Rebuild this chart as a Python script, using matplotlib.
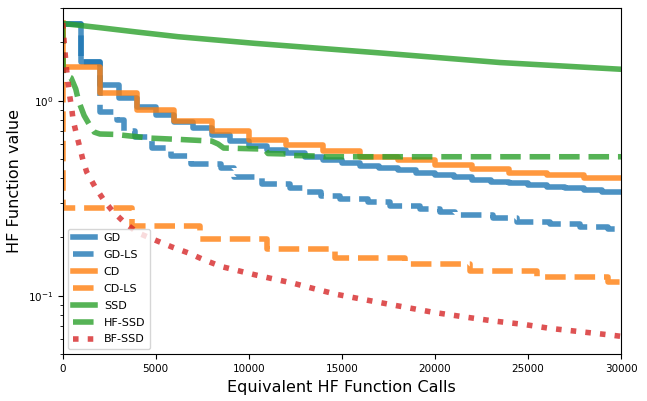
import matplotlib
matplotlib.use("Agg")
import matplotlib.pyplot as plt

# ---------------- data ----------------
# GD: one step every 1000 calls
gd_x = [0, 1000, 2000, 3000, 4000, 5000, 6000, 7000, 8000, 9000, 10000,
        11000, 12000, 13000, 14000, 15000, 16000, 17000, 18000, 19000, 20000,
        21000, 22000, 23000, 24000, 25000, 26000, 27000, 28000, 29000, 30000]
gd_y = [2.47, 1.585, 1.20, 1.03, 0.93, 0.845, 0.78, 0.722, 0.667, 0.62,
        0.585, 0.56, 0.54, 0.516, 0.496, 0.478, 0.465, 0.450, 0.441, 0.428,
        0.416, 0.404, 0.392, 0.385, 0.377, 0.369, 0.362, 0.355, 0.348, 0.341,
        0.341]

# GD-LS
gdls_x = [0, 1000, 2000, 2900, 3300, 3900, 4800, 5800, 6900, 8500, 9200,
          10700, 12200, 13100, 13900, 14900, 16400, 17600, 19200, 20300,
          21100, 23100, 24400, 26200, 27800, 29300, 30000]
gdls_y = [2.47, 1.585, 0.875, 0.796, 0.70, 0.655, 0.572, 0.52, 0.474, 0.452,
          0.406, 0.374, 0.357, 0.34, 0.324, 0.313, 0.302, 0.29, 0.278, 0.268,
          0.26, 0.249, 0.24, 0.233, 0.226, 0.22, 0.22]

# CD: one step every 2000 calls
cd_x = [0, 0, 2000, 4000, 6000, 8000, 10000, 12000, 14000, 16000, 18000,
        20000, 22000, 24000, 26000, 28000, 30000]
cd_y = [2.5, 1.49, 1.09, 0.896, 0.787, 0.70, 0.632, 0.593, 0.552, 0.516,
        0.496, 0.468, 0.447, 0.428, 0.416, 0.40, 0.40]

# CD-LS
cdls_x = [0, 0, 3700, 7380, 10960, 14630, 18390, 21880, 25470, 29300, 30000]
cdls_y = [2.5, 0.283, 0.228, 0.195, 0.173, 0.157, 0.145, 0.134, 0.125,
          0.118, 0.118]

# SSD
ssd_x = [0, 2000, 4000, 6200, 10300, 17000, 23500, 30000]
ssd_y = [2.49, 2.37, 2.25, 2.13, 1.97, 1.76, 1.57, 1.45]

# HF-SSD
hfssd_x = [0, 30, 450, 700, 850, 1150, 1450, 1700, 2000, 2800, 4700, 6300,
           8000, 8350, 8650, 10850, 11030, 12100, 12320, 13800, 14050, 30000]
hfssd_y = [2.5, 1.37, 1.31, 1.15, 1.0, 0.84, 0.75, 0.69, 0.675, 0.672, 0.643,
           0.633, 0.621, 0.60, 0.572, 0.565, 0.536, 0.533, 0.524, 0.52, 0.516,
           0.516]

# BF-SSD
bfssd_x = [0, 60, 130, 200, 280, 390, 480, 560, 750, 930, 1090, 1290, 1735,
           2273, 2703, 3347, 4046, 4960, 5857, 6733, 7646, 8543, 9618, 10330,
           11140, 12370, 13290, 14720, 16330, 17950, 19910, 21520, 23140,
           24750, 26180, 27800, 29410, 30000]
bfssd_y = [2.5, 2.1, 1.75, 1.47, 1.25, 1.04, 0.918, 0.796, 0.667, 0.571,
           0.496, 0.431, 0.362, 0.303, 0.270, 0.236, 0.210, 0.193, 0.178,
           0.166, 0.152, 0.141, 0.133, 0.128, 0.123, 0.116, 0.110, 0.1016,
           0.095, 0.0889, 0.0822, 0.078, 0.0742, 0.0713, 0.068, 0.0654,
           0.0629, 0.0619]

x_ticks = [0, 5000, 10000, 15000, 20000, 25000, 30000]

# ---------------- plot ----------------
fig = plt.figure(figsize=(6.47, 4.01), dpi=100)
ax = fig.add_axes([0.0969, 0.1162, 0.9598 - 0.0969, 0.9808 - 0.1162])

lw = 4
a = 0.8
ax.step(gd_x, gd_y, where='post', color='tab:blue', lw=lw, alpha=a, label='GD')
ax.step(gdls_x, gdls_y, where='post', color='tab:blue', lw=lw, alpha=a,
        ls='--', label='GD-LS')
ax.step(cd_x, cd_y, where='post', color='tab:orange', lw=lw, alpha=a, label='CD')
ax.step(cdls_x, cdls_y, where='post', color='tab:orange', lw=lw, alpha=a,
        ls='--', label='CD-LS')
ax.plot(ssd_x, ssd_y, color='tab:green', lw=lw, alpha=a, label='SSD')
ax.plot(hfssd_x, hfssd_y, color='tab:green', lw=lw, alpha=a, ls='--',
        label='HF-SSD')
ax.plot(bfssd_x, bfssd_y, color='tab:red', lw=lw, alpha=a, ls=':',
        label='BF-SSD')

ax.set_yscale('log')
ax.set_xlim(0, 30000)
ax.set_ylim(0.05, 3.0)
ax.set_xticks(x_ticks)
ax.set_xticklabels([str(t) for t in x_ticks])
ax.tick_params(axis='both', which='major', labelsize=7.5)
ax.set_xlabel('Equivalent HF Function Calls', fontsize=11.5)
ax.set_ylabel('HF Function value', fontsize=11.5)
ax.legend(loc='lower left', fontsize=8, labelspacing=0.62)

fig.savefig('out.png', dpi=100)
